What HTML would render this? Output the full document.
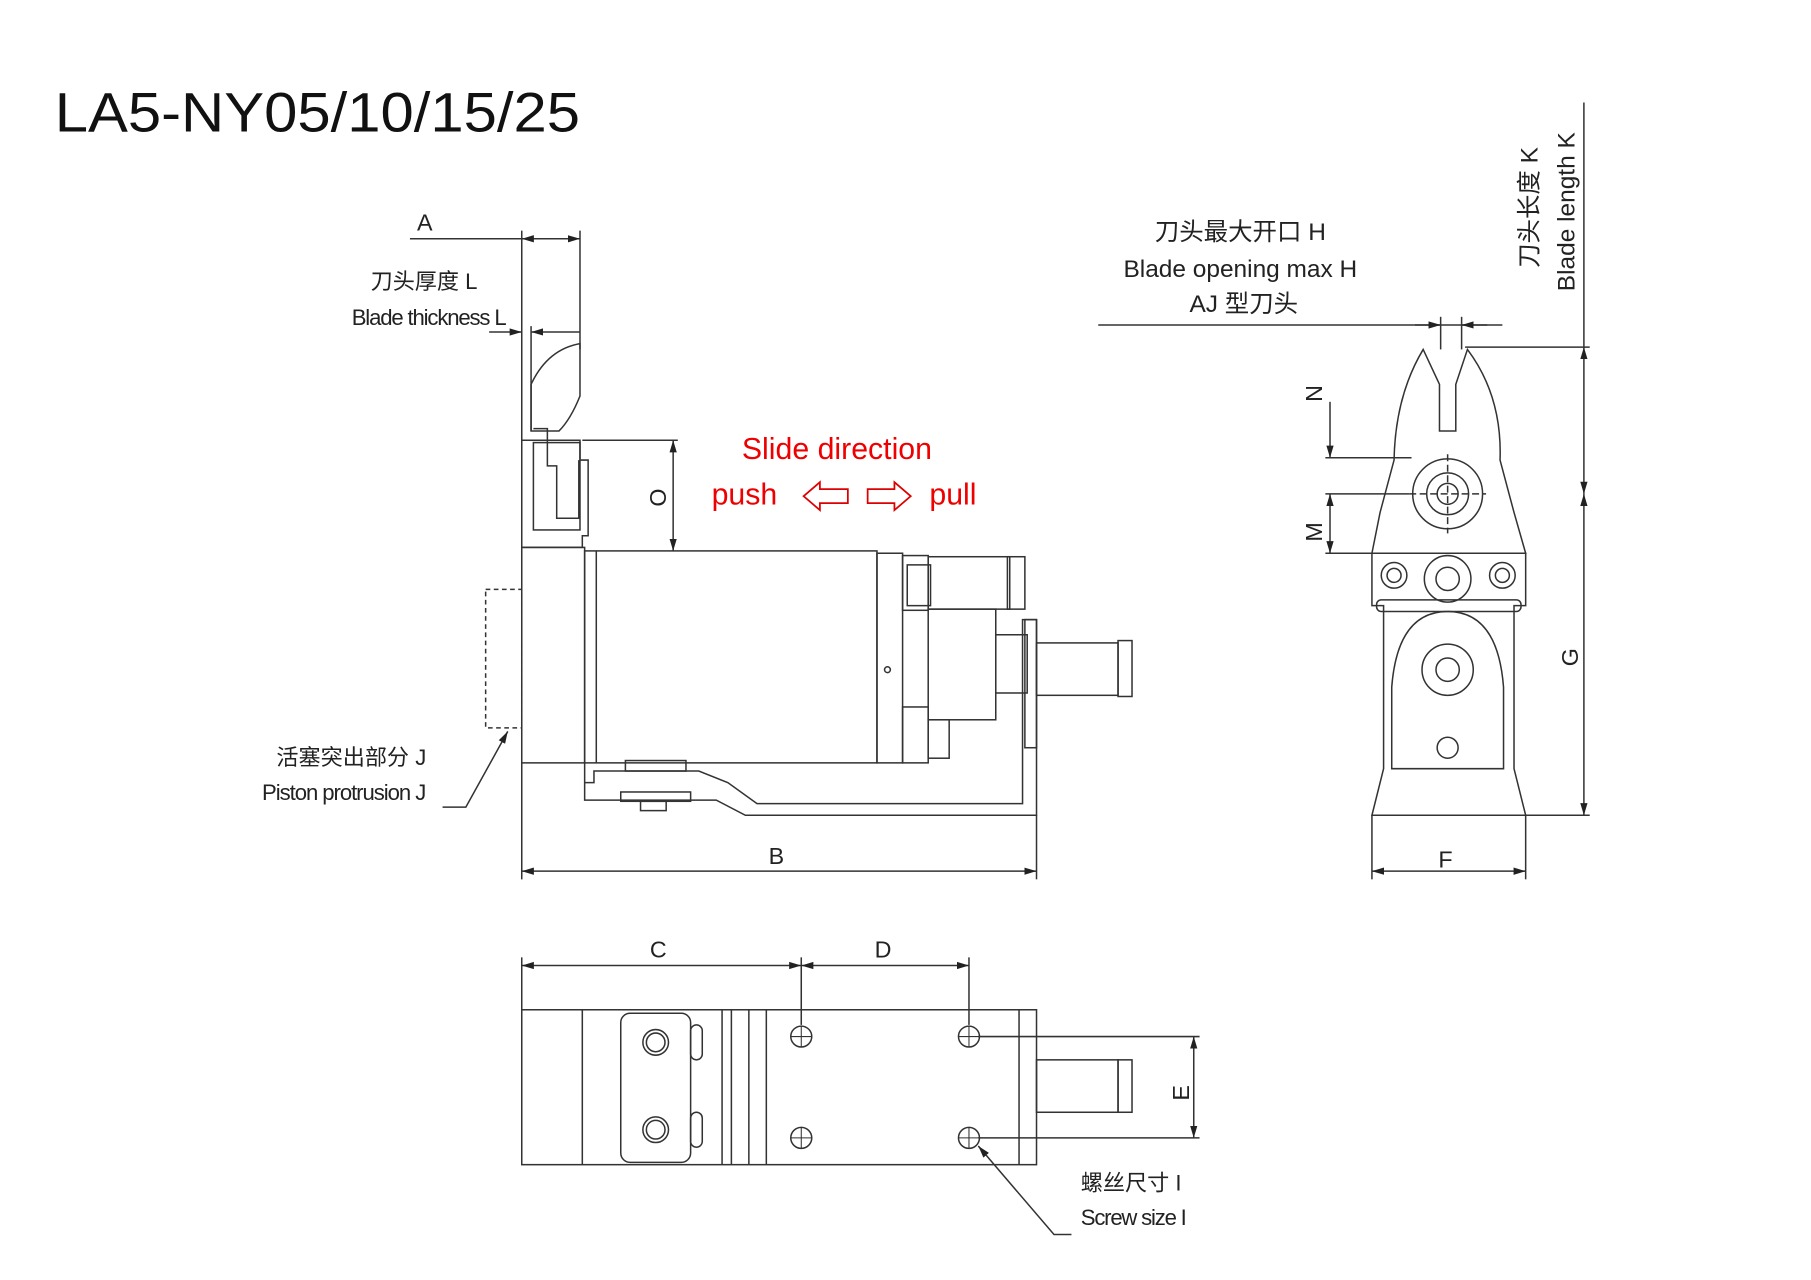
<!DOCTYPE html>
<html><head><meta charset="utf-8"><style>
html,body{margin:0;padding:0;background:#fff;}
svg{display:block}
text{font-family:"Liberation Sans","Noto Sans CJK SC",sans-serif;}
</style></head><body>
<svg width="1811" height="1280" viewBox="0 0 1555 1099" xmlns="http://www.w3.org/2000/svg">
<defs>
<marker id="a" viewBox="0 0 10 10" refX="10" refY="5" markerWidth="8" markerHeight="8" orient="auto-start-reverse"><path d="M0,2 L10,5 L0,8 z" fill="#222"/></marker>
</defs>
<rect width="1555" height="1099" fill="#fff"/>
<text x="47" y="113" font-size="48" fill="#111" textLength="451" lengthAdjust="spacingAndGlyphs">LA5-NY05/10/15/25</text>

<g stroke="#333" stroke-width="1.3" fill="none">
<line x1="352" y1="205" x2="498" y2="205"/>
<line x1="448" y1="205" x2="498" y2="205" marker-start="url(#a)" marker-end="url(#a)"/>
<line x1="448" y1="198" x2="448" y2="380"/>
<line x1="498" y1="198" x2="498" y2="300"/>
<line x1="420" y1="285" x2="448" y2="285" marker-end="url(#a)"/>
<line x1="456" y1="285" x2="498" y2="285" marker-start="url(#a)"/>
<line x1="456" y1="280" x2="456" y2="370"/>
<path d="M456,370 L456,330 Q470,300 498,295 L498,340 Q490,360 480,370 Z"/>
<path d="M448,378 L448,470 L500,470 L500,460 L505,460 L505,395 L498,395 L498,378 Z"/>
<path d="M458,368 L470,368 L470,400 L478,400 L478,445 L497,445 L497,395"/>
<rect x="458" y="380" width="40" height="75"/>
<rect x="448" y="470" width="54" height="185"/>
<rect x="417" y="506" width="31" height="119" stroke-dasharray="4 3"/>
<rect x="502" y="473" width="251" height="182"/>
<line x1="512" y1="473" x2="512" y2="655"/>
<circle cx="762" cy="575" r="2.5"/>
<rect x="753" y="475" width="22" height="180"/>
<rect x="775" y="477" width="22" height="47"/>
<rect x="779" y="485" width="20" height="35"/>
<rect x="775" y="607" width="22" height="48"/>
<rect x="797" y="618" width="18" height="33"/>
<rect x="797" y="478" width="70" height="45"/>
<rect x="865" y="478" width="15" height="45"/>
<rect x="797" y="523" width="58" height="95"/>
<rect x="855" y="545" width="27" height="50"/>
<rect x="880" y="532" width="10" height="110"/>
<rect x="890" y="552" width="70" height="45"/>
<rect x="960" y="550" width="12" height="48"/>
<path d="M502,655 L502,672 L510,672 L510,662 L600,662 L625,672 L650,690 L878,690 L878,532 L890,532 L890,700 L640,700 L615,687 L502,687 Z"/>
<rect x="537" y="653" width="52" height="9"/>
<rect x="533" y="680" width="60" height="8"/>
<rect x="550" y="688" width="22" height="8"/>
<line x1="500" y1="378" x2="582" y2="378"/>
<line x1="578" y1="378" x2="578" y2="473" marker-start="url(#a)" marker-end="url(#a)"/>
<line x1="448" y1="655" x2="448" y2="755"/>
<line x1="890" y1="700" x2="890" y2="755"/>
<line x1="448" y1="748" x2="890" y2="748" marker-start="url(#a)" marker-end="url(#a)"/>
<path d="M380,693 L400,693 L436,628" marker-end="url(#a)"/>

<line x1="943" y1="279" x2="1290" y2="279"/>
<line x1="1215" y1="279" x2="1237" y2="279" marker-end="url(#a)"/>
<line x1="1255" y1="279" x2="1277" y2="279" marker-start="url(#a)"/>
<line x1="1237" y1="272" x2="1237" y2="300"/>
<line x1="1255" y1="272" x2="1255" y2="300"/>
<line x1="1258" y1="298" x2="1365" y2="298"/>
<line x1="1360" y1="88" x2="1360" y2="298"/>
<line x1="1360" y1="298" x2="1360" y2="424" marker-start="url(#a)" marker-end="url(#a)"/>
<line x1="1360" y1="424" x2="1360" y2="700" marker-start="url(#a)" marker-end="url(#a)"/>
<line x1="1310" y1="700" x2="1365" y2="700"/>
<path d="M1222,300 Q1198,340 1197,395 L1185,440 L1178,475 L1310,475 L1300,440 L1288,395 Q1290,340 1260,300 L1250,330 L1250,370 L1236,370 L1236,330 Z"/>
<circle cx="1243" cy="424" r="30"/>
<circle cx="1243" cy="424" r="18"/>
<circle cx="1243" cy="424" r="9"/>
<line x1="1210" y1="424" x2="1276" y2="424" stroke-dasharray="6 3"/>
<line x1="1243" y1="390" x2="1243" y2="458" stroke-dasharray="6 3"/>
<line x1="1138" y1="393" x2="1212" y2="393"/>
<line x1="1138" y1="424" x2="1210" y2="424"/>
<line x1="1138" y1="475" x2="1180" y2="475"/>
<line x1="1142" y1="345" x2="1142" y2="393" marker-end="url(#a)"/>
<line x1="1142" y1="424" x2="1142" y2="475" marker-start="url(#a)" marker-end="url(#a)"/>
<path d="M1178,475 L1310,475 L1310,520 L1300,520 L1300,660 L1310,700 L1178,700 L1188,660 L1188,520 L1178,520 Z"/>
<rect x="1182" y="515" width="124" height="10" rx="4"/>
<circle cx="1197" cy="494" r="11"/><circle cx="1197" cy="494" r="6"/>
<circle cx="1290" cy="494" r="11"/><circle cx="1290" cy="494" r="6"/>
<circle cx="1243" cy="497" r="20"/><circle cx="1243" cy="497" r="10"/>
<path d="M1195,660 L1195,590 Q1200,525 1243,525 Q1286,525 1291,590 L1291,660 Z"/>
<circle cx="1243" cy="575" r="22"/><circle cx="1243" cy="575" r="10"/>
<circle cx="1243" cy="642" r="9"/>
<line x1="1178" y1="700" x2="1178" y2="755"/>
<line x1="1310" y1="700" x2="1310" y2="755"/>
<line x1="1178" y1="748" x2="1310" y2="748" marker-start="url(#a)" marker-end="url(#a)"/>

<line x1="448" y1="822" x2="448" y2="867"/>
<line x1="688" y1="822" x2="688" y2="880"/>
<line x1="832" y1="822" x2="832" y2="880"/>
<line x1="448" y1="829" x2="688" y2="829" marker-start="url(#a)" marker-end="url(#a)"/>
<line x1="688" y1="829" x2="832" y2="829" marker-start="url(#a)" marker-end="url(#a)"/>
<rect x="448" y="867" width="442" height="133"/>
<line x1="500" y1="867" x2="500" y2="1000"/>
<line x1="620" y1="867" x2="620" y2="1000"/>
<line x1="628" y1="867" x2="628" y2="1000"/>
<line x1="643" y1="867" x2="643" y2="1000"/>
<line x1="658" y1="867" x2="658" y2="1000"/>
<line x1="875" y1="867" x2="875" y2="1000"/>
<rect x="533" y="870" width="60" height="128" rx="8"/>
<rect x="593" y="880" width="10" height="30" rx="5"/>
<rect x="593" y="955" width="10" height="30" rx="5"/>
<circle cx="563" cy="895" r="11"/><circle cx="563" cy="895" r="8"/>
<circle cx="563" cy="970" r="11"/><circle cx="563" cy="970" r="8"/>
<circle cx="688" cy="890" r="9"/><circle cx="688" cy="977" r="9"/>
<circle cx="832" cy="890" r="9"/><circle cx="832" cy="977" r="9"/>
<path d="M679,890 h18 M688,881 v18 M679,977 h18 M688,968 v18 M823,890 h18 M832,881 v18 M823,977 h18 M832,968 v18" stroke-width="0.9"/>
<rect x="890" y="910" width="70" height="45"/>
<rect x="960" y="910" width="12" height="45"/>
<line x1="840" y1="890" x2="1030" y2="890"/>
<line x1="840" y1="977" x2="1030" y2="977"/>
<line x1="1025" y1="890" x2="1025" y2="977" marker-start="url(#a)" marker-end="url(#a)"/>
<path d="M920,1060 L905,1060 L840,984" marker-end="url(#a)"/>
</g>

<g stroke="#d00" stroke-width="1.5" fill="none">
<path d="M690,426 L704,414 L704,420 L728,420 L728,432 L704,432 L704,438 Z"/>
<path d="M782,426 L768,414 L768,420 L745,420 L745,432 L768,432 L768,438 Z"/>
</g>

<g fill="#222" font-size="20">
<text x="358" y="198">A</text>
<text x="660" y="742">B</text>
<text x="558" y="822">C</text>
<text x="751" y="822">D</text>
<text x="1235" y="745">F</text>
<text transform="translate(572,435) rotate(-90)">O</text>
<text transform="translate(1135,345) rotate(-90)">N</text>
<text transform="translate(1135,465) rotate(-90)">M</text>
<text transform="translate(1355,572) rotate(-90)">G</text>
<text transform="translate(1021,945) rotate(-90)">E</text>
<text transform="translate(1352,250) rotate(-90)" font-size="21">Blade length K</text>
<text transform="translate(1320,230) rotate(-90)" font-size="21">刀头长度 K</text>
<text x="1065" y="206" font-size="21" text-anchor="middle">刀头最大开口 H</text>
<text x="1065" y="238" font-size="21" text-anchor="middle">Blade opening max H</text>
<text x="1068" y="268" font-size="21" text-anchor="middle">AJ 型刀头</text>
<text x="410" y="248" font-size="19" text-anchor="end">刀头厚度 L</text>
<text x="435" y="279" font-size="19" text-anchor="end" textLength="133">Blade thickness L</text>
<text x="366" y="657" font-size="19" text-anchor="end">活塞突出部分 J</text>
<text x="366" y="687" font-size="19" text-anchor="end" textLength="141">Piston protrusion J</text>
<text x="928" y="1022" font-size="19">螺丝尺寸 I</text>
<text x="928" y="1052" font-size="19" textLength="91">Screw size I</text>
</g>
<g fill="#e00" font-size="26">
<text x="637" y="394">Slide direction</text>
<text x="611" y="433">push</text>
<text x="798" y="433">pull</text>
</g>
</svg>
</body></html>
